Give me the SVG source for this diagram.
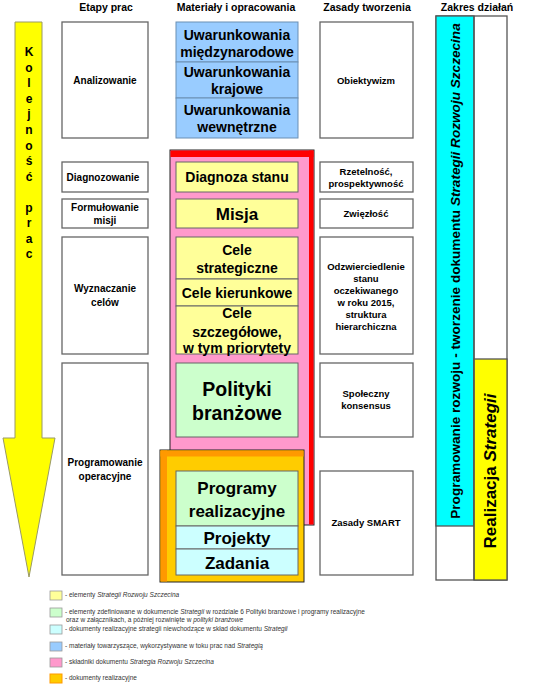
<svg xmlns="http://www.w3.org/2000/svg" width="540" height="684" viewBox="0 0 540 684">
<style>
text{font-family:"Liberation Sans",Arial,sans-serif;font-weight:bold;fill:#000;text-anchor:middle}
.hd{font-size:10.5px}
.c1{font-size:10px}
.c3{font-size:9.5px}
.m14{font-size:14px}
.box{fill:#fff;stroke:#666;stroke-width:1.3}
.bl{fill:#99ccff;stroke:#6b8fb3;stroke-width:1}
.ye{fill:#ffff99;stroke:#666;stroke-width:1}
.gr{fill:#ccffcc;stroke:#666;stroke-width:1}
.cy{fill:#ccffff;stroke:#666;stroke-width:1}
.lg{font-size:6.5px;font-weight:normal;text-anchor:start;fill:#333}
.lgs{stroke:#999;stroke-width:0.8}
</style>
<rect width="540" height="684" fill="#fff"/>
<g id="headers">
<text class="hd" x="106" y="11">Etapy prac</text>
<text class="hd" x="236" y="11">Materiały i opracowania</text>
<text class="hd" x="367" y="11">Zasady tworzenia</text>
<text class="hd" x="477" y="11">Zakres działań</text>
</g>
<g id="arrow">
<polygon points="15,22 42,22 42,438 55,438 29,577 3,438 15,438" fill="#ffff00" stroke="#999966" stroke-width="1"/>
<g font-size="12px">
<text x="29" y="56">K</text><text x="29" y="72">o</text><text x="29" y="87">l</text><text x="29" y="103">e</text><text x="29" y="118">j</text><text x="29" y="134">n</text><text x="29" y="150">o</text><text x="29" y="165">ś</text><text x="29" y="181">ć</text><text x="29" y="212">p</text><text x="29" y="227">r</text><text x="29" y="243">a</text><text x="29" y="258">c</text>
</g>
</g>
<g id="etapy">
<g id="e1"><rect class="box" x="62" y="22" width="86" height="116"/><text class="c1" x="105" y="84">Analizowanie</text></g>
<g id="e2"><rect class="box" x="62" y="162" width="86" height="30"/><text class="c1" x="103" y="181">Diagnozowanie</text></g>
<g id="e3"><rect class="box" x="62" y="199" width="86" height="29"/><text class="c1" x="105" y="211">Formułowanie</text><text class="c1" x="105" y="224">misji</text></g>
<g id="e4"><rect class="box" x="62" y="237" width="86" height="117"/><text class="c1" x="105" y="292">Wyznaczanie</text><text class="c1" x="105" y="306">celów</text></g>
<g id="e5"><rect class="box" x="62" y="363" width="86" height="212"/><text class="c1" x="105" y="466">Programowanie</text><text class="c1" x="105" y="480">operacyjne</text></g>
</g>
<g id="materialy">
<g id="m-blue">
<rect class="bl" x="176" y="22" width="122" height="40"/><text class="m14" x="237" y="40">Uwarunkowania</text><text class="m14" x="237" y="57">międzynarodowe</text>
<rect class="bl" x="176" y="62" width="122" height="36"/><text class="m14" x="237" y="77">Uwarunkowania</text><text class="m14" x="237" y="94">krajowe</text>
<rect class="bl" x="176" y="98" width="122" height="40"/><text class="m14" x="237" y="115">Uwarunkowania</text><text class="m14" x="237" y="132">wewnętrzne</text>
</g>
<g id="frame-red">
<rect x="170" y="150" width="144" height="375" fill="#ff99cc" stroke="#222" stroke-width="1"/>
<rect x="170.5" y="150.5" width="143" height="6.5" fill="#ff0000"/>
<rect x="309" y="150.5" width="4.5" height="374" fill="#ff0000"/>
</g>
<g id="m-diag"><rect class="ye" x="176" y="162" width="122" height="30"/><text class="m14" x="237" y="182">Diagnoza stanu</text></g>
<g id="m-misja"><rect class="ye" x="176" y="199" width="122" height="29"/><text x="237" y="220" font-size="17px">Misja</text></g>
<g id="m-cele">
<rect class="ye" x="176" y="237" width="122" height="42"/><text class="m14" x="237" y="255">Cele</text><text class="m14" x="237" y="273">strategiczne</text>
<rect class="ye" x="176" y="279" width="122" height="27"/><text class="m14" x="237" y="298">Cele kierunkowe</text>
<rect class="ye" x="176" y="306" width="122" height="48"/><text class="m14" x="237" y="318">Cele</text><text class="m14" x="237" y="337">szczegółowe,</text><text class="m14" x="237" y="353">w tym priorytety</text>
</g>
<g id="m-polityki"><rect class="gr" x="176" y="363" width="122" height="74"/><text x="237" y="396" font-size="19.5px">Polityki</text><text x="237" y="420" font-size="19.5px">branżowe</text></g>
<g id="frame-orange">
<rect x="160" y="450" width="144" height="132" fill="#ffcc00" stroke="#222" stroke-width="1"/>
<rect x="160.5" y="450.5" width="143" height="6" fill="#ff9900"/>
<rect x="160.5" y="450.5" width="6.5" height="131" fill="#ff9900"/>
</g>
<g id="m-programy"><rect class="gr" x="176" y="471" width="122" height="55"/><text x="237" y="494" font-size="17px">Programy</text><text x="237" y="517" font-size="17px">realizacyjne</text></g>
<g id="m-projekty"><rect class="cy" x="176" y="526" width="122" height="23"/><text x="237" y="544" font-size="17px">Projekty</text></g>
<g id="m-zadania"><rect class="cy" x="176" y="549" width="122" height="26"/><text x="237" y="569" font-size="17px">Zadania</text></g>
</g>
<g id="zasady">
<g id="z1"><rect class="box" x="320" y="22" width="93" height="116"/><text class="c3" x="366" y="84">Obiektywizm</text></g>
<g id="z2"><rect class="box" x="320" y="162" width="93" height="30"/><text class="c3" x="366" y="175">Rzetelność,</text><text class="c3" x="366" y="187">prospektywność</text></g>
<g id="z3"><rect class="box" x="320" y="199" width="93" height="29"/><text class="c3" x="366" y="217">Zwięzłość</text></g>
<g id="z4"><rect class="box" x="320" y="237" width="93" height="117"/>
<text class="c3" x="366" y="270">Odzwierciedlenie</text><text class="c3" x="366" y="282">stanu</text><text class="c3" x="366" y="294">oczekiwanego</text><text class="c3" x="366" y="306">w roku 2015,</text><text class="c3" x="366" y="318">struktura</text><text class="c3" x="366" y="330">hierarchiczna</text></g>
<g id="z5"><rect class="box" x="320" y="363" width="93" height="74"/><text class="c3" x="366" y="397">Społeczny</text><text class="c3" x="366" y="409">konsensus</text></g>
<g id="z6"><rect class="box" x="320" y="471" width="93" height="104"/><text class="c3" x="366" y="526">Zasady SMART</text></g>
</g>
<g id="zakres">
<rect x="436" y="16" width="71" height="564" fill="#fff" stroke="#555" stroke-width="1.3"/>
<rect x="436" y="16" width="38" height="510" fill="#00ffff" stroke="#555" stroke-width="1.3"/>
<rect x="474" y="359" width="33" height="221" fill="#ffff00" stroke="#555" stroke-width="1.3"/>
<line x1="474" y1="16" x2="474" y2="580" stroke="#555" stroke-width="1.3"/>
<text transform="translate(460,271) rotate(-90)" font-size="13.6px">Programowanie rozwoju - tworzenie dokumentu <tspan font-style="italic">Strategii Rozwoju Szczecina</tspan></text>
<text transform="translate(496,471) rotate(-90)" font-size="17px">Realizacja <tspan font-style="italic">Strategii</tspan></text>
</g>
<g id="legend">
<rect class="lgs" x="50" y="591" width="12" height="9" fill="#ffff99"/>
<text class="lg" x="65" y="597">- elementy <tspan font-style="italic">Strategii Rozwoju Szczecina</tspan></text>
<rect class="lgs" x="50" y="608" width="12" height="9" fill="#ccffcc"/>
<text class="lg" x="65" y="614">- elementy zdefiniowane w dokumencie <tspan font-style="italic">Strategii</tspan> w rozdziale 6 Polityki branżowe i programy realizacyjne</text>
<text class="lg" x="66" y="622">oraz w załącznikach, a później rozwinięte w <tspan font-style="italic">polityki branżowe</tspan></text>
<rect class="lgs" x="50" y="625" width="12" height="9" fill="#ccffff"/>
<text class="lg" x="65" y="631">- dokumenty realizacyjne strategii niewchodzące w skład dokumentu <tspan font-style="italic">Strategii</tspan></text>
<rect class="lgs" x="50" y="642" width="12" height="9" fill="#99ccff"/>
<text class="lg" x="65" y="648">- materiały towarzyszące, wykorzystywane w toku prac nad <tspan font-style="italic">Strategią</tspan></text>
<rect class="lgs" x="50" y="658" width="12" height="9" fill="#ff99cc"/>
<text class="lg" x="65" y="664">- składniki dokumentu <tspan font-style="italic">Strategia Rozwoju Szczecina</tspan></text>
<rect x="50" y="674" width="12" height="9" fill="#ffcc00" stroke="#ff9900" stroke-width="1"/>
<text class="lg" x="65" y="680">- dokumenty realizacyjne</text>
</g>
</svg>
